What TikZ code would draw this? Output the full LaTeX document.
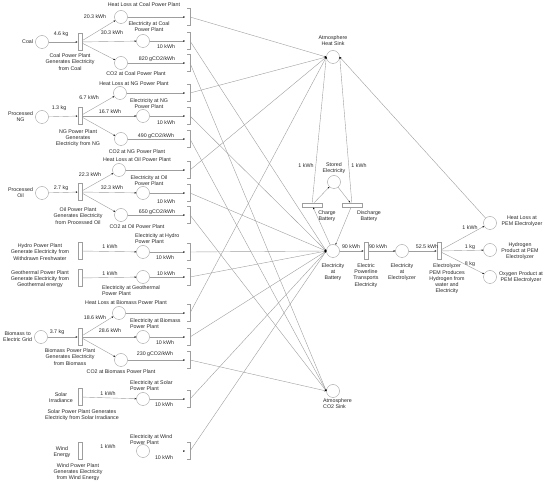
\documentclass[tikz,border=0pt]{standalone}
\usepackage{fontspec}
\setmainfont{Liberation Sans}
\usetikzlibrary{positioning, arrows.meta}
\colorlet{drawColor}{black!38}
\tikzstyle{place}=[circle, draw=drawColor, minimum size=13pt, inner sep=0pt]
\tikzstyle{trans}=[rectangle, draw=drawColor, fill=white, minimum width=4.5pt, minimum height=17pt, inner sep=0pt]
\tikzstyle{htrans}=[rectangle, draw=drawColor, fill=white, minimum width=20pt, minimum height=4.5pt, inner sep=0pt]
\tikzstyle{lbl}=[font=\fontsize{5.3}{6.2}\selectfont, align=center, inner sep=0pt, text=black!85]
\tikzstyle{flow}=[-{Stealth[length=1.8pt, width=1.5pt, black]}, draw=drawColor, line width=0.4pt]
\newcommand{\bracketAt}[2]{\coordinate (#1) at (190,#2);
  \draw [drawColor, line width=0.4pt] (#1) ++(-3,-8.5) -- ++(3,0) -- ++(0,17) -- ++(-3,0);}

\begin{document}
\begin{tikzpicture}[x=1pt, y=-1pt]
      \useasboundingbox (0,0) rectangle (550,486);
      % coal
      \node(pCoal) [place] at (42,42) {};
      \node(nCoal) [lbl, left=2pt of pCoal] {Coal};
      \node(tCoal) [trans] at (80,42) {};
      \node(dCoal) [lbl] at (70,62) {Coal Power Plant\\Generates Electricity\\from Coal};
      \node(hCoal) [place] at (121,17) {};
      \node(eCoal) [place] at (143,41) {};
      \node(cCoal) [place] at (121,63) {};
      \node(nhCoal) [lbl] at (144,5) {Heat Loss at Coal Power Plant};
      \node(neCoal) [lbl] at (149,27) {Electricity at Coal\\Power Plant};
      \node(ncCoal) [lbl] at (136,74) {CO2 at Coal Power Plant};
      \node(wCoal) [lbl] at (61,34) {4.6 kg};
      \node(whCoal) [lbl] at (95,17) {20.3 kWh};
      \node(weCoal) [lbl] at (112,33) {30.3 kWh};
      \node(wcCoal) [lbl] at (157,59) {820 gCO2/kWh};
      \node(woCoal) [lbl] at (166,47) {10 kWh};
      \draw [flow] (pCoal) -- (tCoal);
      \draw [flow] (tCoal) -- (hCoal);
      \draw [flow] (tCoal) -- (eCoal);
      \draw [flow] (tCoal) -- (cCoal);
      \bracketAt{bhCoal}{17} \bracketAt{beCoal}{41} \bracketAt{bcCoal}{63}
      \draw [flow, shorten >=5pt] (hCoal) -- (bhCoal);
      \draw [flow, shorten >=5pt] (eCoal) -- (beCoal);
      \draw [flow, shorten >=5pt] (cCoal) -- (bcCoal);
      % natural gas
      \node(pNG) [place] at (42,117) {};
      \node(nNG) [lbl, left=2pt of pNG] {Processed\\NG};
      \node(tNG) [trans] at (80,116) {};
      \node(dNG) [lbl] at (78,138) {NG Power Plant\\Generates\\Electricity from NG};
      \node(hNG) [place] at (120,93) {};
      \node(eNG) [place] at (143,116) {};
      \node(cNG) [place] at (121,139) {};
      \node(nhNG) [lbl] at (134,84) {Heat Loss at NG Power Plant};
      \node(neNG) [lbl] at (149,104) {Electricity at NG\\Power Plant};
      \node(ncNG) [lbl] at (137,152) {CO2 at NG Power Plant};
      \node(wNG) [lbl] at (59,108) {1.3 kg};
      \node(whNG) [lbl] at (89,98) {6.7 kWh};
      \node(weNG) [lbl] at (110,112) {16.7 kWh};
      \node(wcNG) [lbl] at (156,136) {490 gCO2/kWh};
      \node(woNG) [lbl] at (166,123) {10 kWh};
      \draw [flow] (pNG) -- (tNG);
      \draw [flow] (tNG) -- (hNG);
      \draw [flow] (tNG) -- (eNG);
      \draw [flow] (tNG) -- (cNG);
      \bracketAt{bhNG}{93} \bracketAt{beNG}{116} \bracketAt{bcNG}{139}
      \draw [flow, shorten >=5pt] (hNG) -- (bhNG);
      \draw [flow, shorten >=5pt] (eNG) -- (beNG);
      \draw [flow, shorten >=5pt] (cNG) -- (bcNG);
      % oil
      \node(pOil) [place] at (42,193) {};
      \node(nOil) [lbl, left=2pt of pOil] {Processed\\Oil};
      \node(tOil) [trans] at (80,192) {};
      \node(dOil) [lbl] at (78,216) {Oil Power Plant\\Generates Electricity\\from Processed Oil};
      \node(hOil) [place] at (119,170) {};
      \node(eOil) [place] at (143,193) {};
      \node(cOil) [place] at (121,215) {};
      \node(nhOil) [lbl] at (137,160) {Heat Loss at Oil Power Plant};
      \node(neOil) [lbl] at (149,181) {Electricity at Oil\\Power Plant};
      \node(ncOil) [lbl] at (137,227) {CO2 at Oil Power Plant};
      \node(wOil) [lbl] at (61,188) {2.7 kg};
      \node(whOil) [lbl] at (90,175) {22.3 kWh};
      \node(weOil) [lbl] at (112,188) {32.3 kWh};
      \node(wcOil) [lbl] at (157,212) {650 gCO2/kWh};
      \node(woOil) [lbl] at (166,202) {10 kWh};
      \draw [flow] (pOil) -- (tOil);
      \draw [flow] (tOil) -- (hOil);
      \draw [flow] (tOil) -- (eOil);
      \draw [flow] (tOil) -- (cOil);
      \bracketAt{bhOil}{170} \bracketAt{beOil}{193} \bracketAt{bcOil}{215}
      \draw [flow, shorten >=5pt] (hOil) -- (bhOil);
      \draw [flow, shorten >=5pt] (eOil) -- (beOil);
      \draw [flow, shorten >=5pt] (cOil) -- (bcOil);
      % hydro
      \node(tHydro) [trans] at (80,251) {};
      \node(dHydro) [lbl] at (40,252) {Hydro Power Plant\\Generate Electricity from\\Withdrawn Freshwater};
      \node(eHydro) [place] at (143,252) {};
      \node(neHydro) [lbl, align=left, anchor=west] at (135,239) {Electricity at Hydro\\Power Plant};
      \node(wHydro) [lbl] at (110,247) {1 kWh};
      \node(woHydro) [lbl] at (165,258) {10 kWh};
      \draw [flow] (tHydro) -- (eHydro);
      \bracketAt{beHydro}{252}
      \draw [flow, shorten >=5pt] (eHydro) -- (beHydro);
      % geothermal
      \node(tGeo) [trans] at (80,278) {};
      \node(dGeo) [lbl] at (40,279) {Geothermal Power Plant\\Generate Electricity from\\Geothermal energy};
      \node(eGeo) [place] at (143,277) {};
      \node(neGeo) [lbl, align=left, anchor=west] at (102,291) {Electricity at Geothermal\\Power Plant};
      \node(wGeo) [lbl] at (110,274) {1 kWh};
      \node(woGeo) [lbl] at (166,274) {10 kWh};
      \draw [flow] (tGeo) -- (eGeo);
      \bracketAt{beGeo}{277}
      \draw [flow, shorten >=5pt] (eGeo) -- (beGeo);
      % biomass
      \node(pBio) [place] at (41,337) {};
      \node(nBio) [lbl, left=2pt of pBio] {Biomass to\\Electric Grid};
      \node(tBio) [trans] at (80,337) {};
      \node(dBio) [lbl] at (70,357) {Biomass Power Plant\\Generates Electricity\\from Biomass};
      \node(hBio) [place] at (119,313) {};
      \node(eBio) [place] at (143,337) {};
      \node(cBio) [place] at (121,360) {};
      \node(nhBio) [lbl] at (126,303) {Heat Loss at Biomass Power Plant};
      \node(neBio) [lbl, align=left, anchor=west] at (130,324) {Electricity at Biomass\\Power Plant};
      \node(ncBio) [lbl] at (121,372) {CO2 at Biomass Power Plant};
      \node(wBio) [lbl] at (57,332) {3.7 kg};
      \node(whBio) [lbl] at (95,318) {18.6 kWh};
      \node(weBio) [lbl] at (110,331) {28.6 kWh};
      \node(wcBio) [lbl] at (155,354) {230 gCO2/kWh};
      \node(woBio) [lbl] at (165,343) {10 kWh};
      \draw [flow] (pBio) -- (tBio);
      \draw [flow] (tBio) -- (hBio);
      \draw [flow] (tBio) -- (eBio);
      \draw [flow] (tBio) -- (cBio);
      \bracketAt{bhBio}{313} \bracketAt{beBio}{337} \bracketAt{bcBio}{360}
      \draw [flow, shorten >=5pt] (hBio) -- (bhBio);
      \draw [flow, shorten >=5pt] (eBio) -- (beBio);
      \draw [flow, shorten >=5pt] (cBio) -- (bcBio);
      % solar
      \node(tSolar) [trans] at (80,397) {};
      \node(nSolar) [lbl] at (61,398) {Solar\\Irradiance};
      \node(dSolar) [lbl] at (82,415) {Solar Power Plant Generates\\Electricity from Solar Irradiance};
      \node(eSolar) [place] at (143,399) {};
      \node(neSolar) [lbl, align=left, anchor=west] at (130,386) {Electricity at Solar\\Power Plant};
      \node(wSolar) [lbl] at (108,394) {1 kWh};
      \node(woSolar) [lbl] at (164,405) {10 kWh};
      \draw [flow] (tSolar) -- (eSolar);
      \bracketAt{beSolar}{399}
      \draw [flow, shorten >=5pt] (eSolar) -- (beSolar);
      % wind
      \node(tWind) [trans] at (80,451) {};
      \node(nWind) [lbl] at (62,452) {Wind\\Energy};
      \node(dWind) [lbl] at (78,472) {Wind Power Plant\\Generates Electricity\\from Wind Energy};
      \node(eWind) [place] at (143,451) {};
      \node(neWind) [lbl, align=left, anchor=west] at (130,440) {Electricity at Wind\\Power Plant};
      \node(wWind) [lbl] at (108,447) {1 kWh};
      \node(woWind) [lbl] at (164,458) {10 kWh};
      \bracketAt{beWind}{451}
      \draw [flow, shorten >=5pt] ([xshift=-7pt]beWind) -- (beWind);
      % sinks and battery
      \node(heatSink) [place] at (333,57) {};
      \node(nHeatSink) [lbl] at (333,41) {Atmosphere\\Heat Sink};
      \node(co2Sink) [place] at (333,391) {};
      \node(nCo2Sink) [lbl, align=left, anchor=north west] at (323,398) {Atmosphere\\CO2 Sink};
      \node(battery) [place] at (333,251) {};
      \node(nBattery) [lbl] at (333,272) {Electricity\\at\\Battery};
      \node(stored) [place] at (334,182) {};
      \node(nStored) [lbl] at (334,168) {Stored\\Electricity};
      \node(charge) [htrans] at (312,205) {};
      \node(nCharge) [lbl] at (327,216) {Charge\\Battery};
      \node(discharge) [htrans] at (352,205) {};
      \node(nDischarge) [lbl] at (369,216) {Discharge\\Battery};
      \node(wCharge) [lbl] at (306,166) {1 kWh};
      \node(wDischarge) [lbl] at (359,166) {1 kWh};
      \draw [flow] (bhCoal) -- (heatSink.west);
      \draw [flow] (bhNG) -- (heatSink.west);
      \draw [flow] (bhOil) -- (heatSink.west);
      \draw [flow] (bhBio) -- (heatSink.west);
      \draw [flow] (bcCoal) -- (co2Sink.west);
      \draw [flow] (bcNG) -- (co2Sink.west);
      \draw [flow] (bcOil) -- (co2Sink.west);
      \draw [flow] (bcBio) -- (co2Sink.west);
      \draw [flow] (beCoal) -- (battery.west);
      \draw [flow] (beNG) -- (battery.west);
      \draw [flow] (beOil) -- (battery.west);
      \draw [flow] (beHydro) -- (battery.west);
      \draw [flow] (beGeo) -- (battery.west);
      \draw [flow] (beBio) -- (battery.west);
      \draw [flow] (beSolar) -- (battery.west);
      \draw [flow] (beWind) -- (battery.west);
      \draw [flow] (battery) -- (charge);
      \draw [flow] (charge) -- (stored);
      \draw [flow] (stored) -- (discharge);
      \draw [flow] (discharge) -- (battery);
      \draw [flow] (charge) -- (heatSink.west);
      \draw [flow] (discharge) -- (heatSink.east);
      % electrolyzer
      \node(powerline) [trans] at (366,251) {};
      \node(nPowerline) [lbl] at (366,275.5) {Electric\\Powerline\\Transports\\Electricity};
      \node(elz) [place] at (402,251) {};
      \node(nElz) [lbl] at (402,272) {Electricity\\at\\Electrolyzer};
      \node(pem) [trans] at (439,251) {};
      \node(nPem) [lbl] at (447,279) {Electrolyzer\\PEM Produces\\Hydrogen from\\water and\\Electricity};
      \node(hPem) [place] at (490,223) {};
      \node(h2Pem) [place] at (490,250) {};
      \node(o2Pem) [place] at (490,277) {};
      \node(nhPem) [lbl] at (522,221) {Heat Loss at\\PEM Electrolyzer};
      \node(nh2Pem) [lbl] at (520,251) {Hydrogen\\Product at PEM\\Electrolyzer};
      \node(no2Pem) [lbl] at (521,277) {Oxygen Product at\\PEM Electrolyzer};
      \node(wBattery) [lbl] at (351,247) {90 kWh};
      \node(wPowerline) [lbl] at (378,247) {90 kWh};
      \node(wElz) [lbl] at (427,247) {52.5 kWh};
      \node(whPem) [lbl] at (470,228) {1 kWh};
      \node(wh2Pem) [lbl] at (470,247) {1 kg};
      \node(wo2Pem) [lbl] at (470,264) {8 kg};
      \draw [flow] (battery) -- (powerline);
      \draw [flow] (powerline) -- (elz);
      \draw [flow] (elz) -- (pem);
      \draw [flow] (pem) -- (hPem);
      \draw [flow] (pem) -- (h2Pem);
      \draw [flow] (pem) -- (o2Pem);
      \draw [flow] (hPem) -- (heatSink.east);
    \end{tikzpicture}
\end{document}
